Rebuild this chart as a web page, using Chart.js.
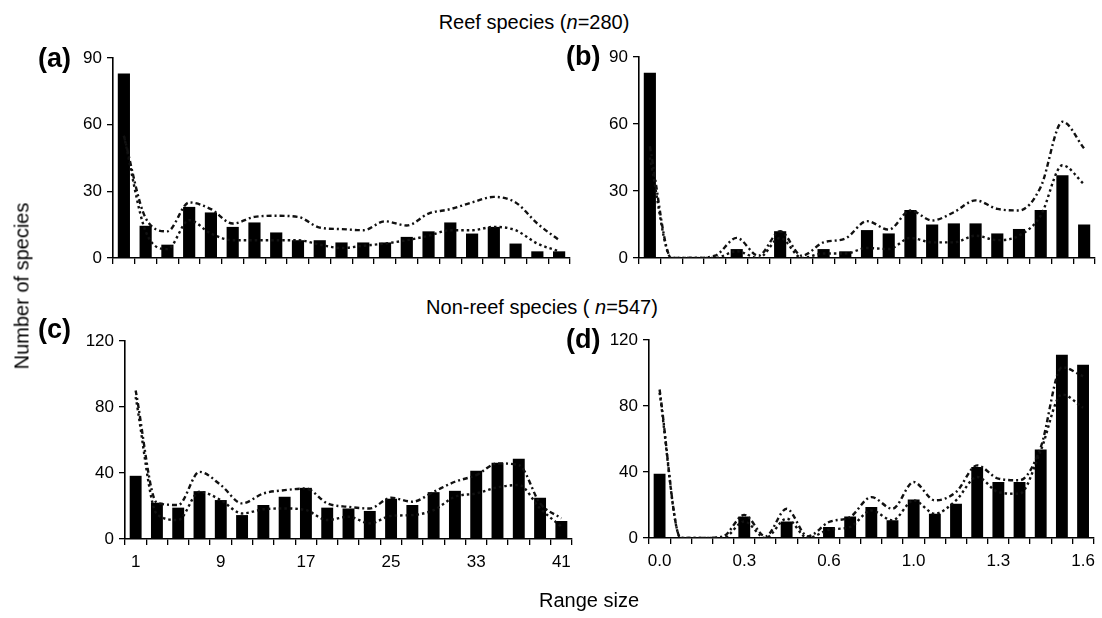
<!DOCTYPE html>
<html>
<head>
<meta charset="utf-8">
<script src="https://cdn.jsdelivr.net/npm/chart.js@4"></script>
<style>
  body { margin: 0; background: #fff; font-family: "Liberation Sans", Arial, sans-serif; color: #000; }
  #wrap { position: relative; width: 1102px; height: 618px; overflow: hidden; }
  canvas { position: absolute; }
  .txt { position: absolute; white-space: nowrap; font-size: 20px; transform: translate(-50%, -50%); }
  .lab { position: absolute; font-weight: bold; font-size: 27px; transform: translateY(-50%); }
</style>
</head>
<body>
<div id="wrap">
  <canvas id="chartA" width="550" height="240" style="left:30px;top:40px"></canvas>
  <canvas id="chartB" width="546" height="240" style="left:556px;top:40px"></canvas>
  <canvas id="chartC" width="540" height="280" style="left:40px;top:320px"></canvas>
  <canvas id="chartD" width="542" height="280" style="left:560px;top:320px"></canvas>

  <div class="txt" style="left:534px;top:22px">Reef species (<i>n</i>=280)</div>
  <div class="txt" style="left:542px;top:307px">Non-reef species ( <i>n</i>=547)</div>
  <div class="txt" style="left:22px;top:286px;transform:translate(-50%,-50%) rotate(-90deg)">Number of species</div>
  <div class="txt" style="left:589px;top:600px">Range size</div>
  <div class="lab" style="left:38px;top:58px">(a)</div>
  <div class="lab" style="left:566px;top:56px">(b)</div>
  <div class="lab" style="left:38px;top:329px">(c)</div>
  <div class="lab" style="left:566px;top:339px">(d)</div>
</div>
<script>
// categorias (tamaño del rango)
const rangeCats = ['1','3','5','7','9','11','13','15','17','19','21','23','25','27','29','31','33','35','37','39','41'];
const logCats = ['0.0','0.08','0.16','0.24','0.32','0.4','0.48','0.56','0.64','0.72','0.8','0.88','0.96','1.04','1.12','1.2','1.28','1.36','1.44','1.52','1.6'];
const rangeTicks = ['1','','','','9','','','','17','','','','25','','','','33','','','','41'];
const logTicks = ['0.0','','','','0.3','','','','0.6','','','','1.0','','','','1.3','','','','1.6'];

// (a) reef, rango lineal
const reefA = [83, 14.5, 6, 23, 20.5, 14, 16, 11.5, 8, 8, 7, 7, 7, 9.5, 12, 16, 11, 14, 6.5, 3, 3];
const reefAUpper = [55, 18, 12, 25, 22, 15.5, 18.5, 19, 18.5, 13.7, 13, 12.5, 16.5, 14.6, 20, 22, 25, 27.5, 25, 15.5, 8];
const reefALower = [55, 12, 4, 17, 11, 8, 8, 8, 8, 6, 4.5, 5.5, 6.5, 8, 10, 12.5, 12.5, 14, 12.5, 6.5, 3];

// (b) reef, rango log
const reefB = [83, 0, 0.5, 0, 4, 0, 12, 0, 4, 3, 12.5, 11, 21.5, 15, 15.5, 15.5, 11, 13, 21.5, 37, 15];
const reefBUpper = [50, 0, 0, 1, 9, 1, 12, 1, 7, 8.7, 16.5, 12.7, 21.3, 16.8, 20.5, 25.8, 22, 21.3, 31.8, 61, 49];
const reefBLower = [45, 0, 0, 0, 3, 0, 9, 0, 2, 2, 4.5, 4, 9, 7, 7, 10, 8, 10, 19, 41.5, 33];

// (c) non-reef, rango lineal
const nonReefC = [38.3, 22, 19, 29, 23.6, 14.5, 20.6, 25.6, 31, 19, 18.5, 17, 24.4, 20.6, 28.4, 29.2, 41.3, 46.2, 48.6, 25, 10.9];
const nonReefCUpper = [90, 22, 20.6, 40.7, 32.7, 21.6, 27.6, 29.6, 30.6, 21.6, 19.5, 18.5, 25, 22.6, 28.6, 34.7, 38.7, 45.8, 44.8, 21.6, 12.5];
const nonReefCLower = [86, 15, 11.5, 28.6, 23.6, 15.5, 18, 18.5, 17.5, 11.5, 13.5, 9.5, 14, 14.5, 17.5, 25.6, 27.6, 31.3, 32.7, 18.5, 7.5];

// (d) non-reef, rango log
const nonReefD = [38.9, 0, 0, 0, 13, 0, 10, 0, 6.7, 13, 18.8, 10.7, 23.4, 14.7, 20.8, 43, 33.9, 33.9, 53.7, 111, 105];
const nonReefDUpper = [90, 0, 0, 1, 14, 1, 17.7, 1, 9.7, 12.7, 24.8, 17.7, 33.9, 22.8, 27.8, 44, 36, 35, 55, 103.5, 98];
const nonReefDLower = [88, 0, 0, 0, 10, 0, 11.7, 0, 5, 6.7, 16.7, 10.7, 22.8, 14.7, 22.8, 37, 27.8, 26.8, 53, 87, 79];

const tickFont = { family: 'Liberation Sans, Arial, sans-serif', size: 17 };

function makePanel(id, cats, tickLabels, bars, upper, lower, yMax, yStep, g) {
    const curve = (data, dash) => ({
        type: 'line',
        data: data,
        borderColor: '#111',
        borderWidth: 2.4,
        borderDash: dash,
        pointRadius: 0,
        fill: false,
        cubicInterpolationMode: 'monotone',
        order: 1
    });

    new Chart(document.getElementById(id), {
        type: 'bar',
        data: {
            labels: cats,
            datasets: [
                {
                    data: bars,
                    backgroundColor: '#000',
                    barPercentage: 0.56,
                    categoryPercentage: 1,
                    order: 2
                },
                curve(upper, [5, 3, 2, 3]),
                curve(lower, [2.5, 3])
            ]
        },
        options: {
            responsive: false,
            animation: false,
            layout: { padding: { top: g.top, right: g.right, left: 0, bottom: 0 } },
            plugins: { legend: { display: false }, tooltip: { enabled: false } },
            scales: {
                x: {
                    offset: true,
                    grid: { offset: true, drawOnChartArea: false, color: '#000', tickLength: 6, lineWidth: 1.3 },
                    border: { color: '#000', width: 1.6 },
                    ticks: {
                        autoSkip: false, maxRotation: 0, padding: 7,
                        color: '#000', font: tickFont,
                        callback: (v, i) => tickLabels[i]
                    },
                    afterFit: s => { s.height = g.xh; }
                },
                y: {
                    min: 0, max: yMax,
                    grid: { drawOnChartArea: false, color: '#000', tickLength: 6, lineWidth: 1.3 },
                    border: { color: '#000', width: 1.6 },
                    ticks: { stepSize: yStep, padding: 5, color: '#000', font: tickFont },
                    afterFit: s => { s.width = g.yw; }
                }
            }
        }
    });
}

document.addEventListener('DOMContentLoaded', () => {
    const blank = rangeTicks.map(() => '');
    makePanel('chartA', rangeCats, blank, reefA, reefAUpper, reefALower, 90, 30, { top: 18, right: 10, yw: 83, xh: 22 });
    makePanel('chartB', logCats, blank, reefB, reefBUpper, reefBLower, 90, 30, { top: 17, right: 7, yw: 83, xh: 22 });
    makePanel('chartC', rangeCats, rangeTicks, nonReefC, nonReefCUpper, nonReefCLower, 120, 40, { top: 21, right: 8, yw: 85, xh: 61 });
    makePanel('chartD', logCats, logTicks, nonReefD, nonReefDUpper, nonReefDLower, 120, 40, { top: 20, right: 5, yw: 89, xh: 62 });
});
</script>
</body>
</html>
